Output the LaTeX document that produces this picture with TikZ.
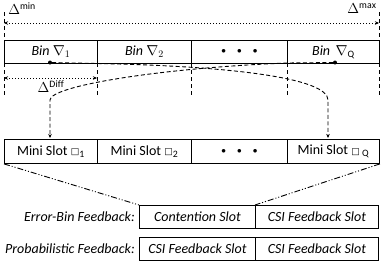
\documentclass[tikz,border=0pt]{standalone}
\usepackage{amssymb}
\usepackage{fontspec}
\setmainfont{Carlito}
\newfontfamily\symfont{DejaVu Sans}
\usetikzlibrary{arrows.meta}

\newcommand{\msq}{{\symfont\fontsize{9}{9}\selectfont\raisebox{0.3pt}{□}}}
\newcommand{\threedots}{{\fontsize{9}{9}\selectfont$\bullet\quad\bullet\quad\bullet$}}

\tikzset{
  cell/.style={draw, line width=0.9pt, minimum height=23pt, inner sep=0pt, anchor=north west},
  guide/.style={line width=0.9pt, dash pattern=on 4pt off 3pt},
  span/.style={dotted, line width=1pt, {Stealth[length=4pt,width=3.5pt]}-{Stealth[length=4pt,width=3.5pt]}},
  link/.style={line width=0.9pt, dash pattern=on 4pt off 2.5pt, -{Stealth[length=4pt,width=3.5pt]}},
  fold/.style={line width=0.9pt, dash pattern=on 6pt off 2pt on 1pt off 2pt on 1pt off 2pt},
  dot/.style={circle, fill, inner sep=0pt, minimum size=4pt},
}

\begin{document}
\begin{tikzpicture}[x=1pt, y=-1pt, font=\fontsize{14}{16}\selectfont]
    \useasboundingbox (0,0) rectangle (384,266);

    % Delta range
    \draw[guide] (4,12) -- (4,40);
    \draw[guide] (379,12) -- (379,40);
    \node (dmin) at (22,9) {$\Delta^{\mathrm{min}}$};
    \node (dmax) at (362,9) {$\Delta^{\mathrm{max}}$};
    \coordinate (lft) at (4,23);
    \coordinate (rgt) at (379,23);
    \draw[span] (lft) -- (rgt);

    % Bins
    \node[cell, minimum width=93pt] (b1) at (4,40) {\textit{Bin} $\nabla_1$};
    \node[cell, minimum width=94pt] (b2) at (97,40) {\textit{Bin} $\nabla_2$};
    \node[cell, minimum width=96pt] (b3) at (191,40) {\threedots};
    \node[cell, minimum width=92pt] (bq) at (287,40) {\textit{Bin}\, $\nabla_{\mathrm{Q}}$};

    % Bin borders below
    \foreach \x in {4,97,191,287,379}
        \draw[guide] (\x,63) -- (\x,95);

    % Delta diff
    \coordinate (dl) at (4,78);
    \coordinate (dr) at (97,78);
    \draw[span] (dl) -- (dr);
    \node (ddiff) at (51,87) {$\Delta^{\mathrm{Diff}}$};

    % Mini slots
    \node[cell, minimum width=93pt, minimum height=24pt] (m1) at (4,139) {Mini Slot \msq\textsubscript{1}};
    \node[cell, minimum width=94pt, minimum height=24pt] (m2) at (97,139) {Mini Slot \msq\textsubscript{2}};
    \node[cell, minimum width=96pt, minimum height=24pt] (m3) at (191,139) {\threedots};
    \node[cell, minimum width=92pt, minimum height=24pt] (mq) at (287,139) {Mini Slot \msq\,\textsubscript{Q}};

    % Mapping
    \node[dot] (d1) at (50,62.5) {};
    \node[dot] (dq) at (335,62.5) {};
    \coordinate (in1) at (50,138);
    \coordinate (inq) at (328,138);
    \draw[link] (d1) -- (97,63.5) .. controls (230,66) and (328,78) .. (328,100) -- (inq);
    \draw[link] (dq) -- (287,63) .. controls (160,68) and (50,86) .. (50,100) -- (in1);

    % Feedback slots
    \node[cell, minimum width=116pt] (c1) at (139,205) {\textit{Contention Slot}};
    \node[cell, minimum width=123pt] (c2) at (255,205) {\textit{CSI Feedback Slot}};
    \node[cell, minimum width=116pt] (p1) at (139,237) {\textit{CSI Feedback Slot}};
    \node[cell, minimum width=123pt] (p2) at (255,237) {\textit{CSI Feedback Slot}};
    \node[anchor=east, inner sep=0pt] (elbl) at (135,216.5) {\textit{Error-Bin Feedback:}};
    \node[anchor=east, inner sep=0pt] (plbl) at (135,248.5) {\textit{Probabilistic Feedback:}};

    % Zoom lines
    \draw[fold] (m1.south west) -- (c1.north west);
    \draw[fold] (mq.south east) -- (c2.north west);

\end{tikzpicture}
\end{document}
